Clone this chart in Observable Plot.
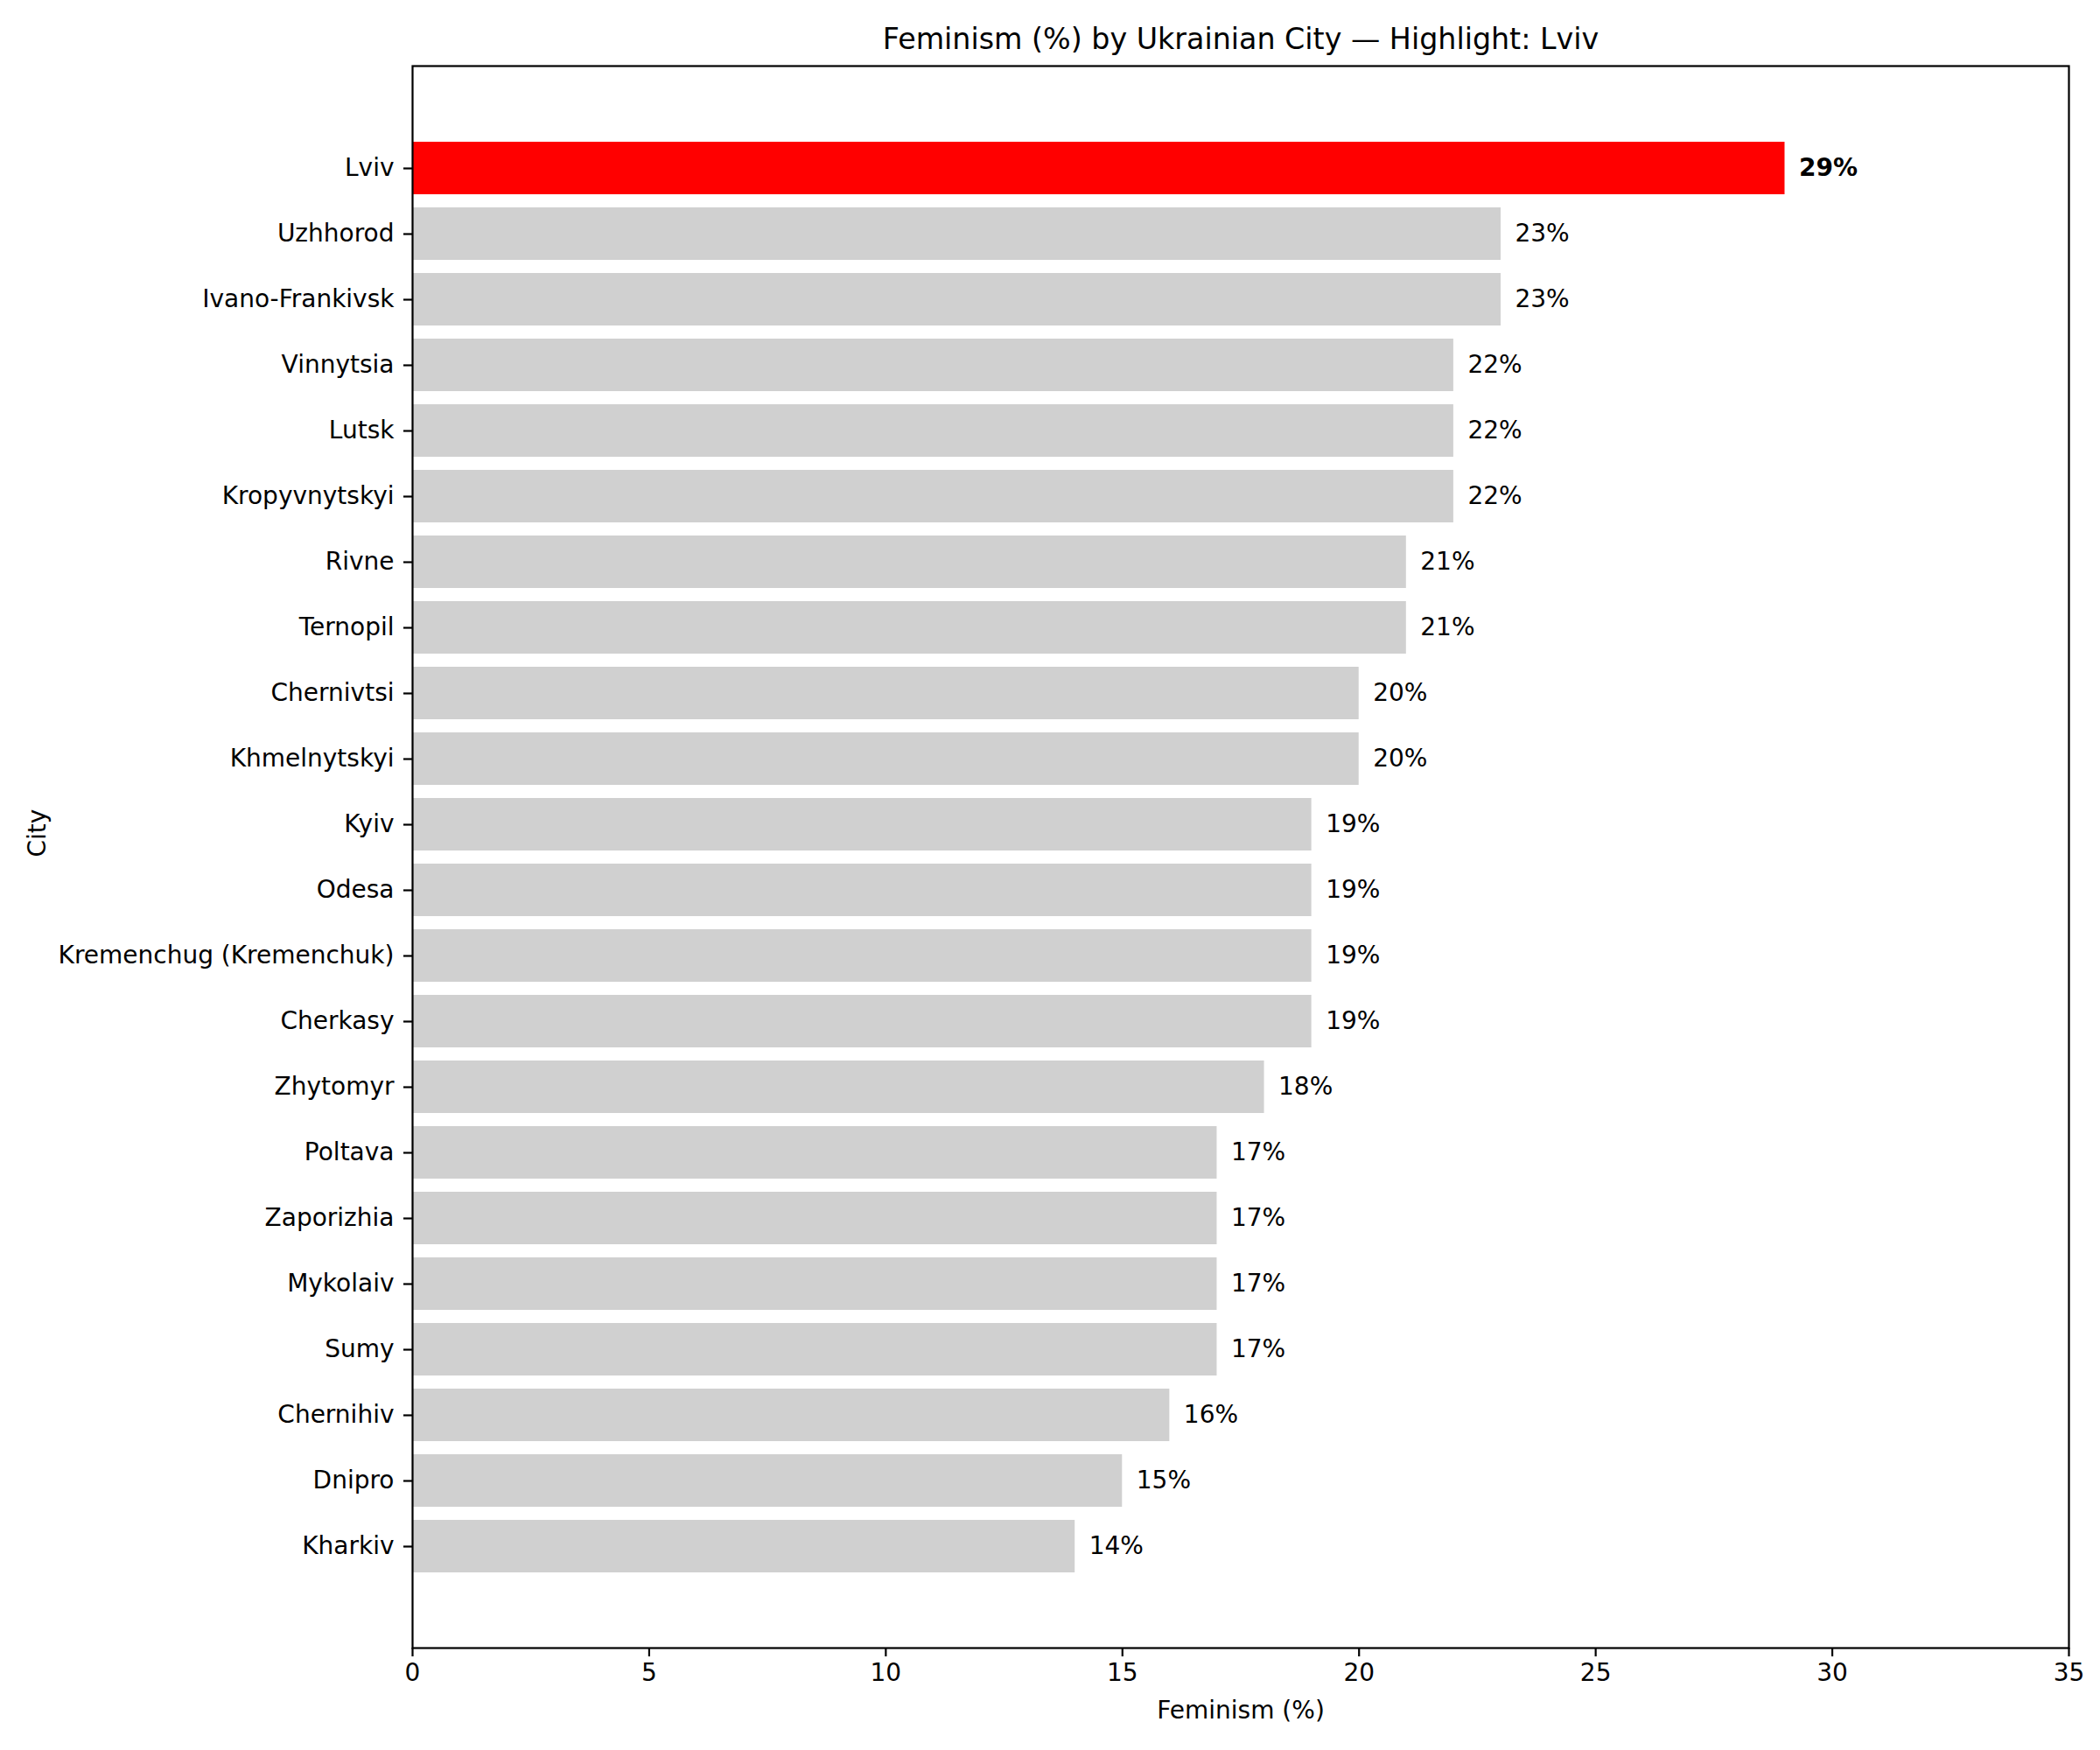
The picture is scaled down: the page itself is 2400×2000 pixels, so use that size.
<!DOCTYPE html>
<html>
<head>
<meta charset="utf-8">
<script src="https://cdn.jsdelivr.net/npm/d3@7"></script>
<script src="https://cdn.jsdelivr.net/npm/@observablehq/plot@0.6"></script>
<style>
  html, body { margin: 0; padding: 0; background: white; }
</style>
</head>
<body>
<div id="chart"></div>
<script>
const cities = ["Lviv", "Uzhhorod", "Ivano-Frankivsk", "Vinnytsia", "Lutsk", "Kropyvnytskyi", "Rivne", "Ternopil", "Chernivtsi", "Khmelnytskyi", "Kyiv", "Odesa", "Kremenchug (Kremenchuk)", "Cherkasy", "Zhytomyr", "Poltava", "Zaporizhia", "Mykolaiv", "Sumy", "Chernihiv", "Dnipro", "Kharkiv"];
const values = [29, 23, 23, 22, 22, 22, 21, 21, 20, 20, 19, 19, 19, 19, 18, 17, 17, 17, 17, 16, 15, 14];
const xTicks = [0, 5, 10, 15, 20, 25, 30, 35];
const highlight = "Lviv";
const title = "Feminism (%) by Ukrainian City \u2014 Highlight: Lviv";
const xLabel = "Feminism (%)";
const yLabel = "City";

const data = cities.map((c, i) => ({city: c, value: values[i]}));
const hi = data.filter(d => d.city === highlight);
const rest = data.filter(d => d.city !== highlight);

const font = "DejaVu Sans";

const chart = Plot.plot({
  width: 2400,
  height: 2000,
  marginLeft: 471,
  marginRight: 36,
  marginTop: 75,
  marginBottom: 117,
  style: {fontFamily: font, fontSize: "28px", background: "white", color: "black"},
  x: {domain: [0, 35]},
  y: {domain: cities, paddingInner: 0.2, paddingOuter: 1.09, align: 0.5},
  marks: [
    Plot.barX(rest, {x: "value", y: "city", fill: "#d0d0d0"}),
    Plot.barX(hi, {x: "value", y: "city", fill: "#ff0000"}),
    Plot.text(rest, {x: "value", y: "city", text: d => d.value + "%", dx: 16, textAnchor: "start", fontSize: 28, fill: "black"}),
    Plot.text(hi, {x: "value", y: "city", text: d => d.value + "%", dx: 16, textAnchor: "start", fontSize: 28, fontWeight: "bold", fill: "black"}),
    Plot.axisX({ticks: xTicks, tickSize: 10, tickPadding: 8, fontSize: 28, strokeWidth: 2.2, label: null, tickFormat: d => String(d)}),
    Plot.axisY({tickSize: 10, tickPadding: 11, fontSize: 28, strokeWidth: 2.2, label: null}),
    Plot.frame({stroke: "black", strokeWidth: 2.2}),
    Plot.text([title], {frameAnchor: "top", lineAnchor: "middle", dy: -30, fontSize: 33.3, fill: "black"}),
    Plot.text([xLabel], {frameAnchor: "bottom", lineAnchor: "middle", dy: 72, fontSize: 28, fill: "black"}),
    Plot.text([yLabel], {frameAnchor: "left", lineAnchor: "middle", dx: -428, rotate: -90, fontSize: 28, fill: "black"})
  ]
});
document.getElementById("chart").appendChild(chart);
</script>
</body>
</html>
